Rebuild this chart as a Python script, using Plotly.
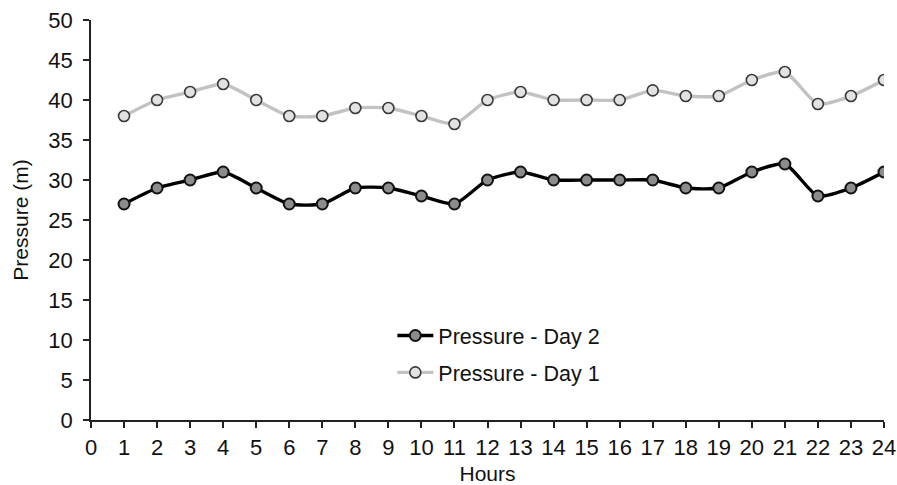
import plotly.graph_objects as go

hours = list(range(1, 25))
day2 = [27, 29, 30, 31, 29, 27, 27, 29, 29, 28, 27, 30, 31, 30, 30, 30, 30, 29, 29, 31, 32, 28, 29, 31]
day1 = [38, 40, 41, 42, 40, 38, 38, 39, 39, 38, 37, 40, 41, 40, 40, 40, 41.2, 40.5, 40.5, 42.5, 43.5, 39.5, 40.5, 42.5]
x_ticks = list(range(0, 25))
y_ticks = list(range(0, 51, 5))

fig = go.Figure()
fig.add_trace(go.Scatter(
    x=hours, y=day2, name="Pressure - Day 2", mode="lines+markers", legendgroup="d2",
    line=dict(color="#000000", width=3.4, shape="spline", smoothing=0.6),
    marker=dict(size=11, color="#8c8c8c", line=dict(color="#111111", width=2)),
))
fig.add_trace(go.Scatter(
    x=hours, y=day1, name="Pressure - Day 1", mode="lines+markers", legendgroup="d1",
    line=dict(color="#c2c2c2", width=3.4, shape="spline", smoothing=0.6),
    marker=dict(size=11, color="#e2e2e2", line=dict(color="#3a3a3a", width=1.6)),
))

font = "Liberation Sans, Arial, sans-serif"
fig.update_layout(
    width=897, height=485,
    margin=dict(l=91, r=13, t=20, b=65, autoexpand=False),
    paper_bgcolor="white", plot_bgcolor="white",
    font=dict(family=font, size=21, color="#111111"),
    showlegend=True,
    legend=dict(x=0.38, y=0.165, xanchor="left", yanchor="middle",
                bgcolor="rgba(0,0,0,0)", font=dict(size=21.5, color="#111111"),
                tracegroupgap=6, itemwidth=36),
)
fig.update_xaxes(
    range=[0, 24], tickvals=x_ticks, ticktext=[str(v) for v in x_ticks],
    showgrid=False, zeroline=False, showline=True, linecolor="#222222", linewidth=1.5,
    ticks="outside", ticklen=6, tickwidth=1.5, tickcolor="#222222",
    tickfont=dict(size=22), ticklabelstandoff=1, automargin=False,
    title=dict(text="Hours", standoff=9, font=dict(size=21)),
)
fig.update_yaxes(
    range=[0, 50], tickvals=y_ticks, ticktext=[str(v) for v in y_ticks],
    showgrid=False, zeroline=False, showline=True, linecolor="#222222", linewidth=1.5,
    ticks="outside", ticklen=6, tickwidth=1.5, tickcolor="#222222",
    tickfont=dict(size=22), ticklabelstandoff=6, automargin=False,
    title=dict(text="Pressure (m)", standoff=14, font=dict(size=21)),
)
fig.write_html("out.html", config={"displayModeBar": False},
               post_script="document.body.style.margin='0';document.body.style.overflow='hidden';")
